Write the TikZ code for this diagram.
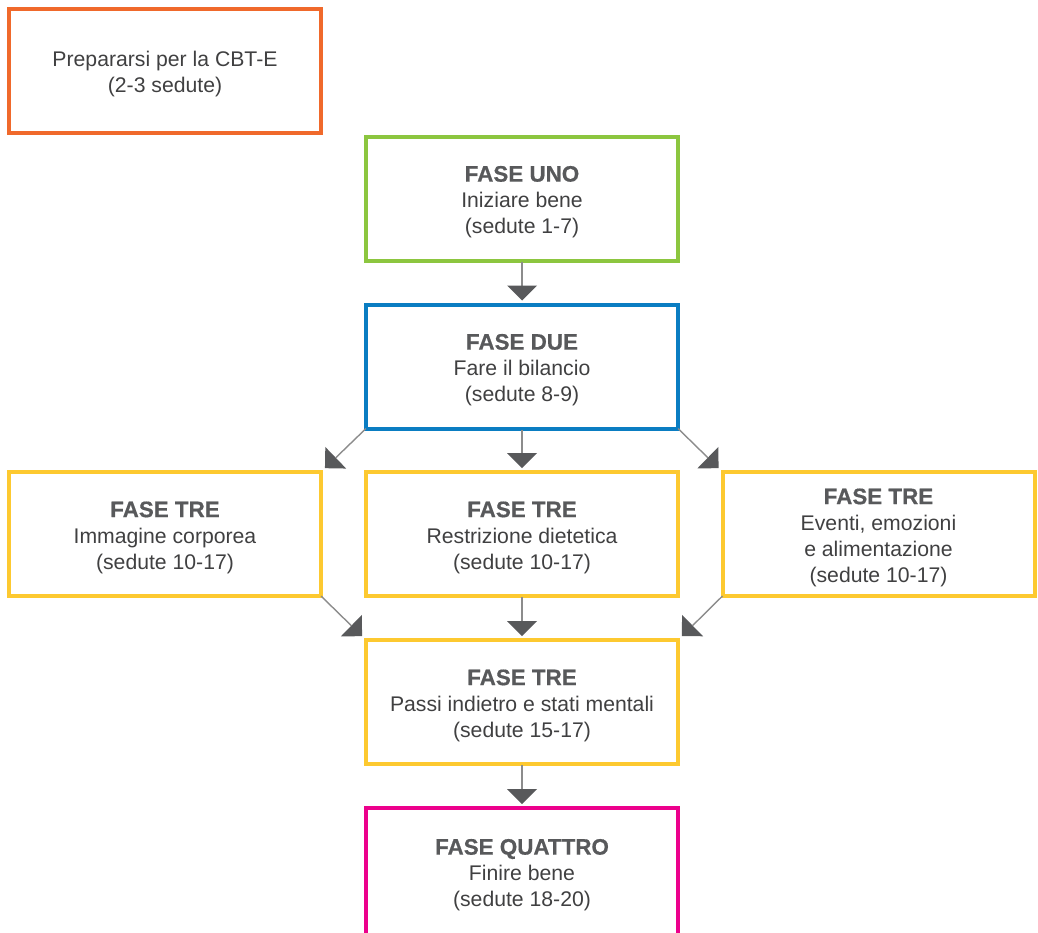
\documentclass[tikz,border=0pt]{standalone}
\usepackage{fontspec}
\setmainfont{Liberation Sans}
\newfontfamily\heavyfont[BoldFeatures={FakeBold=0.6}]{Liberation Sans}
\usetikzlibrary{arrows.meta}
\definecolor{cbtorange}{HTML}{F0692B}
\definecolor{cbtgreen}{HTML}{8CC63F}
\definecolor{cbtblue}{HTML}{0A7DC2}
\definecolor{cbtyellow}{HTML}{FDC930}
\definecolor{cbtpink}{HTML}{EC008C}
\definecolor{titlegray}{HTML}{58595B}
\definecolor{bodygray}{HTML}{404041}
\definecolor{linegray}{HTML}{8C8C8C}
\tikzset{
  stagebox/.style={draw=#1, line width=4pt, rectangle, minimum width=312pt,
    minimum height=124pt, inner sep=0pt, outer sep=0pt},
  stagetext/.style={align=center, inner sep=0pt, text=bodygray, yshift=-3.5pt,
    font=\fontsize{21.2pt}{26pt}\selectfont},
  flow/.style={draw=linegray, line width=1.4pt,
    -{Triangle[width=30pt,length=15pt,color=titlegray,line width=0pt]}},
  vflow/.style={flow, shorten <=1pt, shorten >=4pt},
  dflow/.style={flow, shorten >=5.5pt},
}
\newcommand{\phase}[1]{{\color{titlegray}\heavyfont\bfseries\fontsize{22.4pt}{26pt}\selectfont #1}}
\begin{document}
\begin{tikzpicture}[x=1pt, y=-1pt]
\useasboundingbox (0,0) rectangle (1038,932);

% stage frames
\node[stagebox=cbtorange] (prep) at (165,70.5) {};
\node[stagebox=cbtgreen] (uno) at (522,198.5) {};
\node[stagebox=cbtblue] (due) at (522,366.5) {};
\node[stagebox=cbtyellow] (treA) at (165,534) {};
\node[stagebox=cbtyellow] (treB) at (522,534) {};
\node[stagebox=cbtyellow] (treC) at (878.5,534) {};
\node[stagebox=cbtyellow] (treD) at (522,702) {};
% the last frame runs off the lower edge of the page
\node[stagebox=cbtpink, minimum height=160pt] (quattro) at (522,888) {};

% stage texts
\node[stagetext] (preptext) at (prep) {Prepararsi per la CBT-E\\(2-3 sedute)};
\node[stagetext] (unotext) at (uno) {\phase{FASE UNO}\\Iniziare bene\\(sedute 1-7)};
\node[stagetext] (duetext) at (due) {\phase{FASE DUE}\\Fare il bilancio\\(sedute 8-9)};
\node[stagetext] (treAtext) at (treA) {\phase{FASE TRE}\\Immagine corporea\\(sedute 10-17)};
\node[stagetext] (treBtext) at (treB) {\phase{FASE TRE}\\Restrizione dietetica\\(sedute 10-17)};
\node[stagetext] (treCtext) at (treC) {\phase{FASE TRE}\\Eventi, emozioni\\e alimentazione\\(sedute 10-17)};
\node[stagetext] (treDtext) at (treD) {\phase{FASE TRE}\\Passi indietro e stati mentali\\(sedute 15-17)};
\node[stagetext] (quattrotext) at (522,871.5) {\phase{FASE QUATTRO}\\Finire bene\\(sedute 18-20)};

% connectors
\draw[vflow] (uno) -- (due);
\draw[vflow] (due) -- (treB);
\draw[dflow] (due.south west) -- (treA.north east);
\draw[dflow] (due.south east) -- (treC.north west);
\draw[vflow] (treB) -- (treD);
\draw[dflow] (treA.south east) -- (treD.north west);
\draw[dflow] (treC.south west) -- (treD.north east);
\draw[vflow] (treD) -- (quattro);
\end{tikzpicture}
\end{document}
